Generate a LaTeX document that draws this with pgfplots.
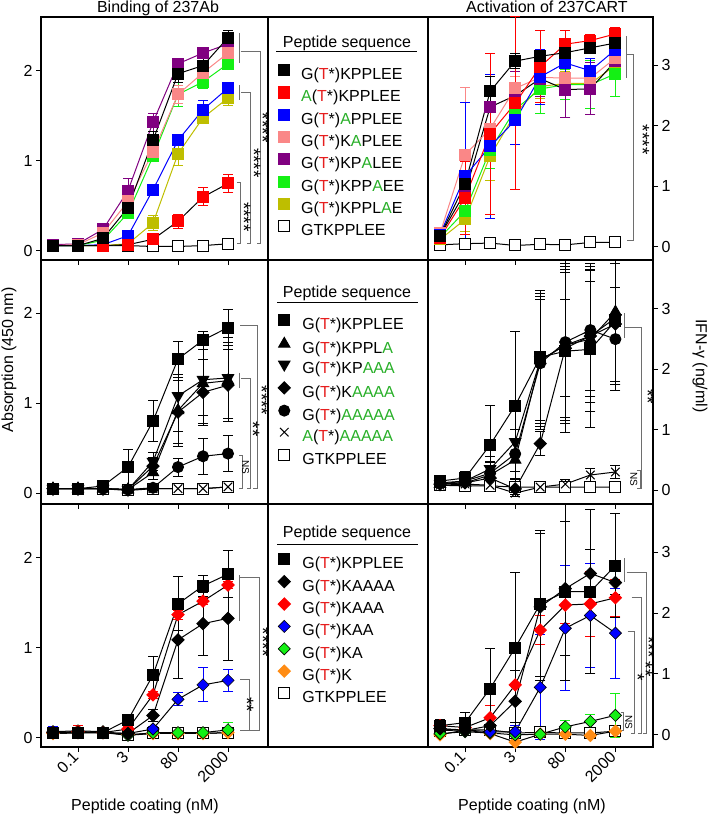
\documentclass[border=0pt]{standalone}
\usepackage{pgfplots}
\pgfplotsset{compat=1.18}
\usepackage{fontspec}
\setmainfont{Liberation Sans}

\definecolor{tred}{RGB}{230,30,30}
\definecolor{agrn}{RGB}{40,175,40}
\definecolor{cred}{RGB}{255,0,0}
\definecolor{cblue}{RGB}{0,0,255}
\definecolor{cpink}{RGB}{250,135,135}
\definecolor{cpurple}{RGB}{128,0,128}
\definecolor{cgreen}{RGB}{20,240,20}
\definecolor{colive}{RGB}{190,190,0}
\definecolor{corange}{RGB}{255,140,20}
\definecolor{brk}{RGB}{110,110,110}

\newcommand{\Tst}{\textcolor{tred}{T}*}
\newcommand{\Al}[1]{\textcolor{agrn}{#1}}
% significance marks
\newcommand{\sbar}[3]{\draw[brk, line width=1pt] (axis cs:#1,#2) -- (axis cs:#1,#3);}
\newcommand{\sbrk}[5]{\draw[brk, line width=0.8pt] (axis cs:#1,#3) -- (axis cs:#2,#3) -- (axis cs:#2,#4) -- (axis cs:#5,#4);}
\newcommand{\sig}[3]{\node[rotate=-90, inner sep=0pt, font=\fontsize{19}{19}\selectfont] at (axis cs:#1,#2) {#3};}
\newcommand{\ns}[2]{\node[rotate=-90, inner sep=0pt, font=\fontsize{10}{10}\selectfont] at (axis cs:#1,#2) {NS};}

\pgfplotsset{
  every axis/.append style={font=\fontsize{16}{19}\selectfont},
  panel/.style={scale only axis, xmin=-0.48, xtick={1,3,5,7}, xticklabels={},
    axis line style={line width=1.2pt}, tick style={line width=1pt, black},
    tick label style={font=\fontsize{16}{19}\selectfont},
    tick align=outside, major tick length=5pt, xtick pos=bottom,
    /pgf/number format/assume math mode=true},
  lp/.style={panel, width=227pt, height=243pt, xmax=8.6, ymin=-0.1, ymax=2.6,
    ytick={0,1,2}, ytick pos=left},
  rp/.style={panel, width=225pt, height=243pt, xmax=8.5, ymin=-0.22, ymax=3.8,
    ytick={0,1,2,3}, ytick pos=right, yticklabel pos=right},
  bot/.style={xticklabels={0.1,3,80,2000}, xticklabel style={rotate=45, anchor=east}},
  s/.style={line width=1pt, mark size=5.5pt,
    /pgfplots/error bars/y dir=both, /pgfplots/error bars/y explicit,
    /pgfplots/error bars/error bar style={line width=1pt},
    /pgfplots/error bars/error mark options={rotate=90, mark size=5pt, line width=1pt}},
  dia/.style={mark=square*, mark size=4.3pt},
  leg/.style={reverse legend, legend cell align=left,
    legend image code/.code={\draw[##1] plot coordinates {(5pt,5.5pt)};},
    legend style={at={(1.044,#1)}, anchor=north west, draw=none, fill=none,
      inner sep=0pt, column sep=12pt, font=\fontsize{16}{19}\selectfont,
      nodes={inner sep=0pt, text height=12pt, text depth=4pt}}},
}

\begin{document}
\begin{tikzpicture}
\useasboundingbox (0pt,0pt) rectangle (707pt,814pt);

%%%%%%%%%%%%%%%% row 1, binding
\begin{axis}[lp, at={(41pt,554pt)}, leg=0.8045, legend style={row sep=3.3pt}]
\addplot[s, black, mark=square*, mark options={fill=white}] coordinates {
 (0,0.06)+-(0,0.01) (1,0.06)+-(0,0.01) (2,0.06)+-(0,0.01) (3,0.06)+-(0,0.01)
 (4,0.05)+-(0,0.01) (5,0.05)+-(0,0.01) (6,0.06)+-(0,0.01) (7,0.08)+-(0,0.01)};
\addlegendentry{GTKPPLEE}
\addplot[s, colive, mark=square*] coordinates {
 (0,0.06)+-(0,0.01) (1,0.06)+-(0,0.01) (2,0.06)+-(0,0.01) (3,0.08)+-(0,0.02)
 (4,0.31)+-(0,0.08) (5,1.08)+-(0,0.13) (6,1.48)+-(0,0.05) (7,1.70)+-(0,0.08)};
\addlegendentry{G(\Tst)KPPL\Al{A}E}
\addplot[s, cgreen, mark=square*] coordinates {
 (0,0.06)+-(0,0.01) (1,0.06)+-(0,0.01) (2,0.12)+-(0,0.02) (3,0.42)+-(0,0.04)
 (4,1.05)+-(0,0.06) (5,1.74)+-(0,0.13) (6,1.88)+-(0,0.07) (7,2.08)+-(0,0.03)};
\addlegendentry{G(\Tst)KPP\Al{A}EE}
\addplot[s, cpurple, mark=square*] coordinates {
 (0,0.07)+-(0,0.01) (1,0.08)+-(0,0.02) (2,0.24)+-(0,0.03) (3,0.67)+-(0,0.14)
 (4,1.43)+-(0,0.10) (5,2.08)+-(0,0.05) (6,2.20)+-(0,0.04) (7,2.30)+-(0,0.05)};
\addlegendentry{G(\Tst)KP\Al{A}LEE}
\addplot[s, cpink, mark=square*] coordinates {
 (0,0.06)+-(0,0.01) (1,0.07)+-(0,0.01) (2,0.20)+-(0,0.02) (3,0.55)+-(0,0.05)
 (4,1.10)+-(0,0.07) (5,1.74)+-(0,0.10) (6,1.98)+-(0,0.06) (7,2.20)+-(0,0.05)};
\addlegendentry{G(\Tst)K\Al{A}PLEE}
\addplot[s, cblue, mark=square*] coordinates {
 (0,0.06)+-(0,0.01) (1,0.06)+-(0,0.01) (2,0.07)+-(0,0.01) (3,0.17)+-(0,0.03)
 (4,0.68)+-(0,0.05) (5,1.23)+-(0,0.04) (6,1.57)+-(0,0.10) (7,1.81)+-(0,0.05)};
\addlegendentry{G(\Tst)\Al{A}PPLEE}
\addplot[s, draw=black, mark=square*, mark options={draw=cred, fill=cred},
 /pgfplots/error bars/error bar style={cred}] coordinates {
 (0,0.06)+-(0,0.01) (1,0.06)+-(0,0.01) (2,0.06)+-(0,0.01) (3,0.07)+-(0,0.02)
 (4,0.13)+-(0,0.03) (5,0.33)+-(0,0.08) (6,0.60)+-(0,0.10) (7,0.75)+-(0,0.10)};
\addlegendentry{\Al{A}(\Tst)KPPLEE}
\addplot[s, black, mark=square*] coordinates {
 (0,0.06)+-(0,0.01) (1,0.06)+-(0,0.01) (2,0.14)+-(0,0.02) (3,0.48)+-(0,0.05)
 (4,1.23)+-(0,0.10) (5,1.97)+-(0,0.10) (6,2.06)+-(0,0.10) (7,2.37)+-(0,0.08)};
\addlegendentry{G(\Tst)KPPLEE}
\sbar{7.45}{2.42}{2.09}
\sbrk{7.5}{8.29}{2.22}{0.08}{8.16}
\sig{8.39}{1.37}{****}
\sbar{7.45}{1.84}{1.68}
\sbrk{7.52}{7.91}{1.76}{0.08}{7.76}
\sig{8.04}{0.98}{****}
\sbrk{7.35}{7.51}{0.76}{0.08}{7.35}
\sig{7.64}{0.38}{****}
\end{axis}

%%%%%%%%%%%%%%%% row 1, activation
\begin{axis}[rp, at={(428pt,554pt)}]
\addplot[s, black, mark=square*, mark options={fill=white}] coordinates {
 (0,0.03)+-(0,0.02) (1,0.05)+-(0,0.02) (2,0.06)+-(0,0.02) (3,0.02)+-(0,0.02)
 (4,0.04)+-(0,0.02) (5,0.03)+-(0,0.02) (6,0.07)+-(0,0.02) (7,0.07)+-(0,0.02)};
\addplot[s, colive, mark=square*] coordinates {
 (0,0.12)+-(0,0.05) (1,0.45)+-(0,0.20) (2,1.50)+-(0,0.40) (3,2.20)+-(0,0.20)
 (4,2.65)+-(0,0.20) (5,2.70)+-(0,0.20) (6,2.70)+-(0,0.10) (7,3.00)+-(0,0.10)};
\addplot[s, cgreen, mark=square*] coordinates {
 (0,0.15)+-(0,0.05) (1,0.59)+-(0,0.15) (2,1.60)+-(0,0.30) (3,2.27)+-(0,0.20)
 (4,2.61)+-(0,0.40) (5,2.68)+-(0,0.25) (6,2.68)+-(0,0.40) (7,2.86)+-(0,0.37)};
\addplot[s, draw=black, mark=square*, mark options={draw=cpurple, fill=cpurple},
 /pgfplots/error bars/error bar style={cpurple}] coordinates {
 (0,0.18)+-(0,0.05) (1,0.90)+-(0,0.30) (2,2.31)+-(0,0.30) (3,2.50)+-(0,0.40)
 (4,2.78)+-(0,0.30) (5,2.60)+-(0,0.47) (6,2.61)+-(0,0.43) (7,3.07)+-(0,0.20)};
\addplot[s, cpink, mark=square*] coordinates {
 (0,0.22)+-(0,0.08) (1,1.52)+-(0,1.12) (2,1.95)+-(0,0.30) (3,2.62)+-(0,0.20)
 (4,2.80)+-(0,0.15) (5,2.79)+-(0,0.15) (6,2.79)+-(0,0.15) (7,3.12)+-(0,0.15)};
\addplot[s, cblue, mark=square*] coordinates {
 (0,0.20)+-(0,0.05) (1,1.17)+-(0,1.22) (2,1.66)+-(0,1.19) (3,2.09)+-(0,0.40)
 (4,2.81)+-(0,0.45) (5,3.04)+-(0,0.20) (6,2.91)+-(0,0.20) (7,3.26)+-(0,0.10)};
\addplot[s, cred, mark=square*] coordinates {
 (0,0.15)+-(0,0.05) (1,0.81)+-(0,0.60) (2,1.87)+-(0,1.33) (3,2.37)+-(0,1.43)
 (4,2.98)+-(0,0.60) (5,3.35)+-(0,0.22) (6,3.41)+-(0,0.10) (7,3.52)+-(0,0.10)};
\addplot[s, black, mark=square*] coordinates {
 (0,0.18)+-(0,0.05) (1,1.04)+-(0,0.10) (2,2.57)+-(0,0.25) (3,3.07)+-(0,0.12)
 (4,3.15)+-(0,0.10) (5,3.21)+-(0,0.10) (6,3.29)+-(0,0.10) (7,3.37)+-(0,0.10)};
\sbar{7.45}{3.48}{2.79}
\sbrk{7.45}{7.73}{3.18}{0.11}{7.45}
\sig{8.09}{1.77}{****}
\end{axis}

%%%%%%%%%%%%%%%% row 2, binding
\begin{axis}[lp, at={(41pt,310pt)}, height=244pt, ymin=-0.12, ymax=2.59,
  leg=0.777, legend style={row sep=3.8pt}]
\addplot[s, black, mark=square*, mark options={fill=white}] coordinates {
 (0,0.05)+-(0,0.01) (1,0.05)+-(0,0.01) (2,0.05)+-(0,0.01) (3,0.03)+-(0,0.01)
 (4,0.05)+-(0,0.01) (5,0.05)+-(0,0.01) (6,0.05)+-(0,0.01) (7,0.07)+-(0,0.01)};
\addlegendentry{GTKPPLEE}
\addplot[s, black, mark=x, mark size=6pt] coordinates {
 (0,0.05)+-(0,0.01) (1,0.05)+-(0,0.01) (2,0.05)+-(0,0.01) (3,0.04)+-(0,0.01)
 (4,0.05)+-(0,0.01) (5,0.05)+-(0,0.01) (6,0.05)+-(0,0.01) (7,0.07)+-(0,0.01)};
\addlegendentry{\Al{A}(\Tst)\Al{AAAAA}}
\addplot[s, black, mark=*, mark size=5.5pt] coordinates {
 (0,0.05)+-(0,0.01) (1,0.05)+-(0,0.01) (2,0.05)+-(0,0.01) (3,0.04)+-(0,0.02)
 (4,0.06)+-(0,0.02) (5,0.29)+-(0,0.10) (6,0.41)+-(0,0.20) (7,0.44)+-(0,0.20)};
\addlegendentry{G(\Tst)\Al{AAAAA}}
\addplot[s, black, dia, mark options={rotate=45}] coordinates {
 (0,0.05)+-(0,0.01) (1,0.05)+-(0,0.01) (2,0.05)+-(0,0.01) (3,0.04)+-(0,0.02)
 (4,0.30)+-(0,0.10) (5,0.90)+-(0,0.35) (6,1.12)+-(0,0.37) (7,1.20)+-(0,0.40)};
\addlegendentry{G(\Tst)K\Al{AAAA}}
\addplot[s, black, mark=triangle*, mark size=6.5pt, mark options={rotate=180}] coordinates {
 (0,0.05)+-(0,0.01) (1,0.05)+-(0,0.01) (2,0.05)+-(0,0.01) (3,0.04)+-(0,0.02)
 (4,0.35)+-(0,0.10) (5,1.08)+-(0,0.40) (6,1.26)+-(0,0.40) (7,1.28)+-(0,0.45)};
\addlegendentry{G(\Tst)KP\Al{AAA}}
\addplot[s, black, mark=triangle*, mark size=6.5pt] coordinates {
 (0,0.05)+-(0,0.01) (1,0.05)+-(0,0.01) (2,0.05)+-(0,0.01) (3,0.04)+-(0,0.02)
 (4,0.23)+-(0,0.08) (5,0.92)+-(0,0.40) (6,1.22)+-(0,0.45) (7,1.25)+-(0,0.42)};
\addlegendentry{G(\Tst)KPPL\Al{A}}
\addplot[s, black, mark=square*] coordinates {
 (0,0.05)+-(0,0.01) (1,0.05)+-(0,0.01) (2,0.08)+-(0,0.02) (3,0.29)+-(0,0.20)
 (4,0.80)+-(0,0.23) (5,1.49)+-(0,0.20) (6,1.70)+-(0,0.10) (7,1.84)+-(0,0.20)};
\addlegendentry{G(\Tst)KPPLEE}
\sbrk{7.48}{8.17}{1.86}{0.055}{8.0}
\sig{8.35}{1.03}{****}
\sbar{7.44}{1.34}{1.17}
\sbrk{7.52}{7.91}{1.28}{0.055}{7.76}
\sig{8.0}{0.71}{**}
\sbrk{7.44}{7.59}{0.42}{0.055}{7.44}
\ns{7.7}{0.29}
\end{axis}

%%%%%%%%%%%%%%%% row 2, activation
\begin{axis}[rp, at={(428pt,310pt)}, height=244pt, ymin=-0.23, ymax=3.81]
\addplot[s, black, mark=square*, mark options={fill=white}] coordinates {
 (0,0.08)+-(0,0.02) (1,0.07)+-(0,0.02) (2,0.07)+-(0,0.02) (3,0.05)+-(0,0.02)
 (4,0.05)+-(0,0.02) (5,0.05)+-(0,0.02) (6,0.05)+-(0,0.02) (7,0.05)+-(0,0.02)};
\addplot[s, black, mark=x, mark size=6pt] coordinates {
 (0,0.08)+-(0,0.02) (1,0.10)+-(0,0.02) (2,0.08)+-(0,0.02) (3,-0.05)+-(0,0.05)
 (4,0.05)+-(0,0.03) (5,0.10)+-(0,0.08) (6,0.25)+-(0,0.10) (7,0.30)+-(0,0.10)};
\addplot[s, black, mark=*, mark size=5.5pt] coordinates {
 (0,0.12)+-(0,0.05) (1,0.15)+-(0,0.10) (2,0.28)+-(0,0.20) (3,0.60)+-(0,0.40)
 (4,2.10)+-(0,1.10) (5,2.45)+-(0,1.30) (6,2.65)+-(0,1.10) (7,2.50)+-(0,0.85)};
\addplot[s, black, dia, mark options={rotate=45}] coordinates {
 (0,0.10)+-(0,0.05) (1,0.12)+-(0,0.10) (2,0.20)+-(0,0.20) (3,0.02)+-(0,0.10)
 (4,0.77)+-(0,0.20) (5,2.35)+-(0,0.80) (6,2.55)+-(0,0.90) (7,2.75)+-(0,1.00)};
\addplot[s, black, mark=triangle*, mark size=6.5pt, mark options={rotate=180}] coordinates {
 (0,0.10)+-(0,0.05) (1,0.15)+-(0,0.10) (2,0.35)+-(0,0.20) (3,0.80)+-(0,0.50)
 (4,2.15)+-(0,1.00) (5,2.40)+-(0,1.20) (6,2.55)+-(0,1.10) (7,2.85)+-(0,1.10)};
\addplot[s, black, mark=triangle*, mark size=6.5pt] coordinates {
 (0,0.10)+-(0,0.05) (1,0.12)+-(0,0.10) (2,0.25)+-(0,0.20) (3,0.50)+-(0,0.50)
 (4,2.15)+-(0,1.10) (5,2.40)+-(0,1.30) (6,2.50)+-(0,1.20) (7,2.95)+-(0,1.20)};
\addplot[s, black, mark=square*] coordinates {
 (0,0.15)+-(0,0.10) (1,0.20)+-(0,0.10) (2,0.75)+-(0,0.65) (3,1.40)+-(0,1.23)
 (4,2.20)+-(0,1.10) (5,2.30)+-(0,1.35) (6,2.33)+-(0,1.30) (7,2.80)+-(0,1.00)};
\sbar{7.37}{2.93}{2.52}
\sbrk{7.37}{8.05}{2.69}{0.03}{7.85}
\sig{8.29}{1.55}{**}
\sbrk{7.85}{8.0}{0.33}{0.03}{7.85}
\ns{7.73}{0.18}
\end{axis}

%%%%%%%%%%%%%%%% row 3, binding
\begin{axis}[lp, bot, at={(41pt,67pt)}, leg=0.796, legend style={row sep=2.8pt}]
\addplot[s, black, mark=square*, mark options={fill=white}] coordinates {
 (0,0.05)+-(0,0.01) (1,0.06)+-(0,0.01) (2,0.06)+-(0,0.01) (3,0.03)+-(0,0.01)
 (4,0.05)+-(0,0.01) (5,0.05)+-(0,0.01) (6,0.05)+-(0,0.01) (7,0.06)+-(0,0.01)};
\addlegendentry{GTKPPLEE}
\addplot[s, black, dia, mark options={rotate=45, draw=corange, fill=corange},
 /pgfplots/error bars/error bar style={corange}] coordinates {
 (0,0.05)+-(0,0.01) (1,0.06)+-(0,0.01) (2,0.06)+-(0,0.01) (3,0.04)+-(0,0.01)
 (4,0.05)+-(0,0.01) (5,0.05)+-(0,0.01) (6,0.05)+-(0,0.01) (7,0.06)+-(0,0.01)};
\addlegendentry{G(\Tst)K}
\addplot[s, black, dia, mark options={rotate=45, draw=black, line width=0.6pt, fill=cgreen},
 /pgfplots/error bars/error bar style={cgreen}] coordinates {
 (0,0.07)+-(0,0.02) (1,0.08)+-(0,0.03) (2,0.07)+-(0,0.03) (3,0.03)+-(0,0.01)
 (4,0.06)+-(0,0.02) (5,0.06)+-(0,0.02) (6,0.06)+-(0,0.02) (7,0.09)+-(0,0.08)};
\addlegendentry{G(\Tst)KA}
\addplot[s, black, dia, mark options={rotate=45, draw=black, line width=0.6pt, fill=cblue},
 /pgfplots/error bars/error bar style={cblue}] coordinates {
 (0,0.06)+-(0,0.07) (1,0.07)+-(0,0.03) (2,0.06)+-(0,0.03) (3,0.05)+-(0,0.02)
 (4,0.10)+-(0,0.03) (5,0.43)+-(0,0.07) (6,0.59)+-(0,0.19) (7,0.64)+-(0,0.12)};
\addlegendentry{G(\Tst)KAA}
\addplot[s, black, dia, mark options={rotate=45, draw=cred, fill=cred},
 /pgfplots/error bars/error bar style={cred}] coordinates {
 (0,0.06)+-(0,0.02) (1,0.07)+-(0,0.07) (2,0.06)+-(0,0.03) (3,0.10)+-(0,0.03)
 (4,0.48)+-(0,0.04) (5,1.37)+-(0,0.05) (6,1.52)+-(0,0.04) (7,1.70)+-(0,0.04)};
\addlegendentry{G(\Tst)KAAA}
\addplot[s, black, dia, mark options={rotate=45}] coordinates {
 (0,0.06)+-(0,0.01) (1,0.06)+-(0,0.01) (2,0.06)+-(0,0.01) (3,0.05)+-(0,0.02)
 (4,0.25)+-(0,0.07) (5,1.09)+-(0,0.43) (6,1.27)+-(0,0.35) (7,1.33)+-(0,0.47)};
\addlegendentry{G(\Tst)KAAAA}
\addplot[s, black, mark=square*] coordinates {
 (0,0.05)+-(0,0.01) (1,0.06)+-(0,0.01) (2,0.06)+-(0,0.02) (3,0.20)+-(0,0.03)
 (4,0.70)+-(0,0.20) (5,1.49)+-(0,0.30) (6,1.69)+-(0,0.12) (7,1.82)+-(0,0.26)};
\addlegendentry{G(\Tst)KPPLEE}
\sbar{7.44}{1.81}{1.30}
\sbrk{7.48}{8.24}{1.78}{0.085}{7.48}
\sig{8.4}{1.06}{****}
\sbrk{7.48}{7.84}{0.65}{0.085}{7.48}
\sig{7.76}{0.37}{**}
\end{axis}

%%%%%%%%%%%%%%%% row 3, activation
\begin{axis}[rp, bot, at={(428pt,67pt)}, ymin=-0.2, ymax=3.79]
\addplot[s, black, mark=square*, mark options={fill=white}] coordinates {
 (0,0.07)+-(0,0.03) (1,0.08)+-(0,0.03) (2,0.08)+-(0,0.03) (3,0.03)+-(0,0.03)
 (4,0.04)+-(0,0.03) (5,0.03)+-(0,0.03) (6,0.03)+-(0,0.03) (7,0.06)+-(0,0.03)};
\addplot[s, black, dia, mark options={rotate=45, draw=corange, fill=corange},
 /pgfplots/error bars/error bar style={corange}] coordinates {
 (0,0.00)+-(0,0.02) (1,0.08)+-(0,0.02) (2,0.02)+-(0,0.02) (3,-0.12)+-(0,0.02)
 (4,0.01)+-(0,0.02) (5,0.01)+-(0,0.02) (6,-0.01)+-(0,0.02) (7,0.06)+-(0,0.02)};
\addplot[s, black, dia, mark options={rotate=45, draw=black, line width=0.6pt, fill=cgreen},
 /pgfplots/error bars/error bar style={cgreen}] coordinates {
 (0,0.02)+-(0,0.03) (1,0.05)+-(0,0.03) (2,0.03)+-(0,0.03) (3,0.00)+-(0,0.03)
 (4,0.01)+-(0,0.03) (5,0.13)+-(0,0.10) (6,0.22)+-(0,0.12) (7,0.32)+-(0,0.36)};
\addplot[s, black, dia, mark options={rotate=45, draw=black, line width=0.6pt, fill=cblue},
 /pgfplots/error bars/error bar style={cblue}] coordinates {
 (0,0.10)+-(0,0.05) (1,0.08)+-(0,0.05) (2,0.05)+-(0,0.05) (3,0.05)+-(0,0.10)
 (4,0.78)+-(0,0.86) (5,1.75)+-(0,1.03) (6,1.96)+-(0,0.86) (7,1.67)+-(0,0.74)};
\addplot[s, black, dia, mark options={rotate=45, draw=cred, fill=cred},
 /pgfplots/error bars/error bar style={cred}] coordinates {
 (0,0.15)+-(0,0.10) (1,0.12)+-(0,0.05) (2,0.28)+-(0,0.20) (3,0.82)+-(0,0.70)
 (4,1.72)+-(0,0.24) (5,2.13)+-(0,0.30) (6,2.15)+-(0,0.53) (7,2.25)+-(0,0.30)};
\addplot[s, black, dia, mark options={rotate=45}] coordinates {
 (0,0.10)+-(0,0.05) (1,0.07)+-(0,0.05) (2,0.15)+-(0,0.10) (3,0.55)+-(0,0.50)
 (4,2.10)+-(0,1.20) (5,2.40)+-(0,1.10) (6,2.65)+-(0,0.40) (7,2.50)+-(0,0.20)};
\addplot[s, black, mark=square*] coordinates {
 (0,0.15)+-(0,0.10) (1,0.20)+-(0,0.17) (2,0.76)+-(0,0.66) (3,1.43)+-(0,1.23)
 (4,2.15)+-(0,1.20) (5,2.35)+-(0,1.45) (6,2.35)+-(0,1.35) (7,2.78)+-(0,0.85)};
\sbar{7.37}{2.90}{2.51}
\sbrk{7.45}{8.25}{2.67}{0.03}{8.09}
\sbrk{7.65}{8.05}{2.26}{0.03}{7.89}
\sbrk{7.49}{7.77}{1.70}{0.03}{7.61}
\sbrk{7.21}{7.33}{0.36}{0.08}{7.21}
\sig{8.33}{1.44}{***}
\sig{8.21}{1.08}{**}
\sig{7.89}{0.95}{*}
\ns{7.53}{0.21}
\end{axis}

%%%%%%%%%%%%%%%% frame of the legend column, titles and labels
\begin{scope}[x=1pt, y=-1pt, yshift=814pt]
\foreach \yy in {17,260,504,747} {\draw[line width=1.2pt] (268,\yy) -- (428,\yy);}
\node[font=\fontsize{16}{19}\selectfont] at (347,43) {Peptide sequence};
\draw[line width=1pt] (276,52) -- (417,52);
\node[font=\fontsize{16}{19}\selectfont] at (347,293) {Peptide sequence};
\draw[line width=1pt] (277,303) -- (418,303);
\node[font=\fontsize{16}{19}\selectfont] at (347,533) {Peptide sequence};
\draw[line width=1pt] (277,545) -- (418,545);
\node[font=\fontsize{16}{19}\selectfont, anchor=base] at (158,13) {Binding of 237Ab};
\node[font=\fontsize{16}{19}\selectfont, anchor=base] at (547,13) {Activation of 237CART};
\node[font=\fontsize{16}{19}\selectfont, rotate=90] at (9,360) {Absorption (450 nm)};
\node[font=\fontsize{16}{19}\selectfont, rotate=-90] at (700,366) {IFN-γ (ng/ml)};
\node[font=\fontsize{16}{19}\selectfont, anchor=base] at (145,810) {Peptide coating (nM)};
\node[font=\fontsize{16}{19}\selectfont, anchor=base] at (532,810) {Peptide coating (nM)};
\end{scope}
\end{tikzpicture}
\end{document}
